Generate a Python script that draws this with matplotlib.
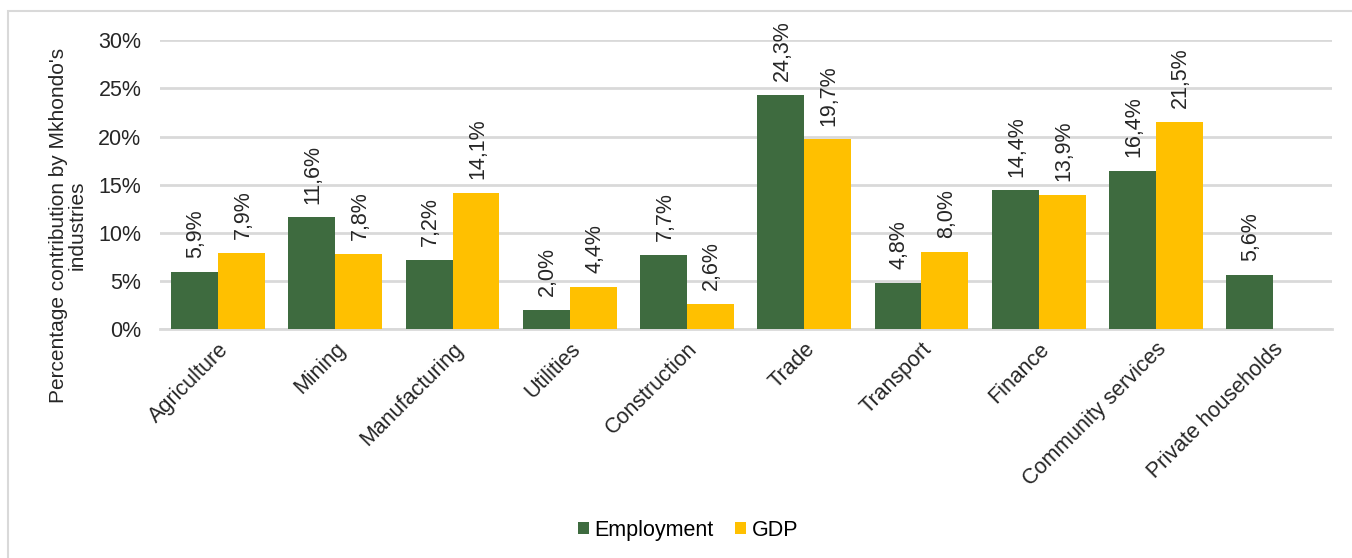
import matplotlib.pyplot as plt
import matplotlib.patches as mpatches
import numpy as np

plt.rcParams['font.family'] = ['Liberation Sans', 'DejaVu Sans']

# Data
industries = ['Agriculture', 'Mining', 'Manufacturing', 'Utilities', 'Construction',
              'Trade', 'Transport', 'Finance', 'Community services', 'Private households']
employment = [5.9, 11.6, 7.2, 2.0, 7.7, 24.3, 4.8, 14.4, 16.4, 5.6]
gdp = [7.9, 7.8, 14.1, 4.4, 2.6, 19.7, 8.0, 13.9, 21.5, None]
yticks = [0, 5, 10, 15, 20, 25, 30]

green = '#3E6B3F'
yellow = '#FFC000'
grid_col = '#D9D9D9'
txt_col = '#262626'
fs = 15.5

fig = plt.figure(figsize=(13.52, 5.58), dpi=100)
ax = fig.add_axes([0.118, 0.410, 0.867, 0.518])

x = np.arange(len(industries))
w = 0.4
emp_bars = ax.bar(x - w / 2, employment, w, color=green, label='Employment', zorder=3)
gdp_x = [xi + w / 2 for xi, v in zip(x, gdp) if v is not None]
gdp_v = [v for v in gdp if v is not None]
gdp_bars = ax.bar(gdp_x, gdp_v, w, color=yellow, label='GDP', zorder=3)

# data labels
for xi, v in list(zip(x - w / 2, employment)) + list(zip(gdp_x, gdp_v)):
    ax.annotate(f'{v:.1f}%'.replace('.', ','), (xi, v), xytext=(1, 10),
                textcoords='offset points', rotation=90, ha='center', va='bottom',
                fontsize=fs, color=txt_col)

ax.set_xlim(-0.5, len(industries) - 0.5)
ax.set_ylim(0, 30)
ax.set_yticks(yticks)
ax.set_yticklabels([f'{t}%' for t in yticks], fontsize=fs, color=txt_col)
ax.set_xticks(x)
ax.set_xticklabels(industries, rotation=45, ha='right', rotation_mode='anchor',
                   fontsize=fs, color=txt_col)
ax.tick_params(axis='both', length=0)
ax.tick_params(axis='y', pad=13)
ax.tick_params(axis='x', pad=7)

ax.grid(axis='y', color=grid_col, linewidth=2, zorder=0)
for s in ['top', 'right', 'left']:
    ax.spines[s].set_visible(False)
ax.spines['bottom'].set_color(grid_col)
ax.spines['bottom'].set_linewidth(2)

ax.set_ylabel("Percentage contribution by Mkhondo's\nindustries", fontsize=15,
              color=txt_col, linespacing=1.0)
ax.yaxis.set_label_coords(-0.062, 0.36)

fig.legend(handles=[emp_bars, gdp_bars], labels=['Employment', 'GDP'], loc='center',
           bbox_to_anchor=(0.509, 0.05), ncol=2, frameon=False, fontsize=fs,
           handlelength=0.5, handleheight=0.5, handletextpad=0.25, columnspacing=1.0)

# outer chart border
border = mpatches.Rectangle((8 / 1352, -0.1), 1.2, 1 - 11 / 558 + 0.1,
                            transform=fig.transFigure, fill=False,
                            edgecolor=grid_col, linewidth=1.5)
fig.patches.append(border)

fig.savefig('out.png', dpi=100)
